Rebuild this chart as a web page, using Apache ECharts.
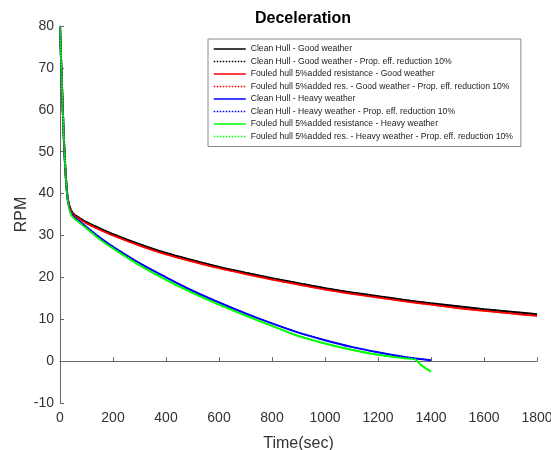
<!DOCTYPE html>
<html>
<head>
<meta charset="utf-8">
<script src="https://cdn.jsdelivr.net/npm/echarts@6/dist/echarts.min.js"></script>
<style>html,body{margin:0;padding:0;background:#fff;}#c{width:551px;height:450px;}</style>
</head>
<body>
<div id="c"></div>
<script>
const seriesNames = [
  'Clean Hull - Good weather',
  'Clean Hull - Good weather - Prop. eff. reduction 10%',
  'Fouled hull 5%added resistance - Good weather',
  'Fouled hull 5%added res. - Good weather - Prop. eff. reduction 10%',
  'Clean Hull - Heavy weather',
  'Clean Hull - Heavy weather - Prop. eff. reduction 10%',
  'Fouled hull 5%added resistance - Heavy weather',
  'Fouled hull 5%added res. - Heavy weather - Prop. eff. reduction 10%'
];
const xTicks = [0, 200, 400, 600, 800, 1000, 1200, 1400, 1600, 1800];
const yTicks = [-10, 0, 10, 20, 30, 40, 50, 60, 70, 80];

const timeGood = [0,5,10,15,20,25,30,40,50,75,100,150,200,300,400,500,600,700,800,900,1000,1100,1200,1300,1400,1500,1600,1700,1800];
const cleanGood = [80,70,61,52.5,46,41.5,38.5,36.2,35.2,34.1,33.2,31.7,30.3,27.9,25.8,24.1,22.5,21.1,19.8,18.6,17.4,16.4,15.5,14.6,13.8,13.1,12.4,11.8,11.2];
const fouledGood = [80,70,61,52.5,46,41.5,38.5,36.1,35.0,33.9,32.9,31.4,30.0,27.6,25.5,23.8,22.2,20.8,19.5,18.3,17.1,16.1,15.2,14.3,13.5,12.7,12.0,11.4,10.8];

const timeHeavy = [0,5,10,15,20,25,30,40,50,75,100,150,200,300,400,500,600,700,800,900,1000,1100,1200,1300,1400];
const cleanHeavy = [80,70,61,52.5,46,41.3,38.2,35.6,34.6,33.3,32.0,29.5,27.3,23.4,20.0,16.8,14.0,11.4,9.0,6.8,5.0,3.4,2.1,1.0,0.2];
const timeHeavyF = [0,5,10,15,20,25,30,40,50,75,100,150,200,300,400,500,600,700,800,900,1000,1100,1200,1300,1340,1360,1380,1400];
const fouledHeavy = [80,70,61,52.5,46,41.2,38.0,35.3,34.3,33.0,31.7,29.1,26.9,22.9,19.4,16.3,13.5,10.9,8.4,6.0,4.2,2.7,1.5,0.7,0.4,-0.8,-1.7,-2.5];

function pairs(t, v){ return t.map((x,i)=>[x, v[i]]); }

const colors = ['#000000','#000000','#ff0000','#ff0000','#0000ff','#0000ff','#00ff00','#00ff00'];
const datasets = [
  pairs(timeGood, cleanGood), pairs(timeGood, cleanGood),
  pairs(timeGood, fouledGood), pairs(timeGood, fouledGood),
  pairs(timeHeavy, cleanHeavy), pairs(timeHeavy, cleanHeavy),
  pairs(timeHeavyF, fouledHeavy), pairs(timeHeavyF, fouledHeavy)
];
const order = [0,2,4,6,1,3,5,7];
const series = seriesNames.map((n,i)=>({
  name: n, type: 'line', data: datasets[i], showSymbol: false, symbol: 'circle', symbolSize: 0,
  smooth: 0.3, animation: false,
  z: 2 + order.indexOf(i),
  lineStyle: { color: colors[i], width: i % 2 === 0 ? 2 : 1.5, type: i % 2 === 0 ? 'solid' : 'dotted' },
  itemStyle: { color: colors[i] }
}));

const FONT = 'Liberation Sans, Arial';
const chart = echarts.init(document.getElementById('c'));
chart.setOption({
  backgroundColor: '#fff',
  animation: false,
  title: { text: 'Deceleration', left: 298, textAlign: 'center', top: 6,
    textStyle: { fontFamily: FONT, fontSize: 16, fontWeight: 'bold', color: '#000' } },
  legend: {
    orient: 'vertical', left: 208, top: 39, data: seriesNames,
    itemWidth: 32, itemHeight: 10, itemGap: 2.5,
    padding: [5, 8, 5, 5],
    borderColor: '#888', borderWidth: 1, backgroundColor: '#fff',
    itemStyle: { opacity: 0 },
    lineStyle: { width: 1.5 },
    textStyle: { fontFamily: FONT, fontSize: 8.6, color: '#222', lineHeight: 10 }
  },
  grid: { left: 60, right: 14, top: 26, bottom: 47, containLabel: false, outerBoundsMode: 'none' },
  xAxis: {
    type: 'value', min: xTicks[0], max: xTicks[xTicks.length-1], interval: 200,
    name: 'Time(sec)', nameLocation: 'middle', nameGap: 33, nameMoveOverlap: false,
    nameTextStyle: { fontFamily: FONT, fontSize: 16, color: '#333' },
    axisLine: { lineStyle: { color: '#666', width: 1 } },
    axisTick: { inside: true, length: 4, lineStyle: { color: '#666' } },
    axisLabel: { fontFamily: FONT, fontSize: 14, color: '#333', margin: 8,
      formatter: v => String(v) },
    splitLine: { show: false }
  },
  yAxis: {
    type: 'value', min: yTicks[0], max: yTicks[yTicks.length-1], interval: 10,
    name: 'RPM', nameLocation: 'middle', nameGap: 30, nameMoveOverlap: false,
    nameTextStyle: { fontFamily: FONT, fontSize: 16, color: '#333' },
    axisLine: { show: true, lineStyle: { color: '#666', width: 1 } },
    axisTick: { show: true, inside: true, length: 4, lineStyle: { color: '#666' } },
    axisLabel: { fontFamily: FONT, fontSize: 14, color: '#333', margin: 6,
      formatter: v => String(v) },
    splitLine: { show: false }
  },
  series: series
});
</script>
</body>
</html>
